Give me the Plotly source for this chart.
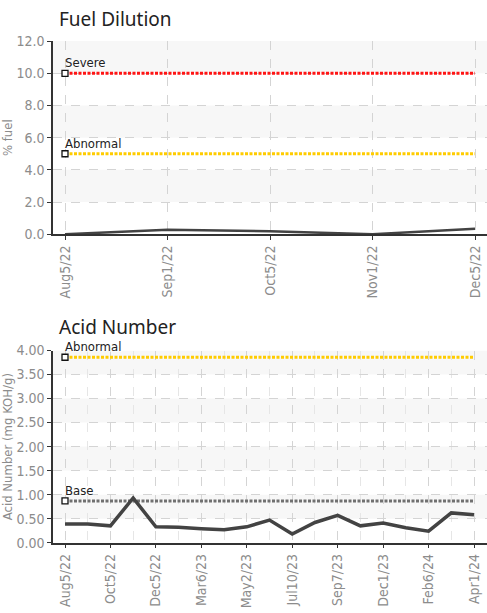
import plotly.graph_objects as go

# ---------------- data ----------------
fuel_dates = ["Aug5/22", "Sep1/22", "Oct5/22", "Nov1/22", "Dec5/22"]
fuel_values = [0.0, 0.28, 0.18, 0.0, 0.34]
fuel_severe = 10.0
fuel_abnormal = 5.0

acid_label_dates = ["Aug5/22", "Oct5/22", "Dec5/22", "Mar6/23", "May2/23",
                    "Jul10/23", "Sep7/23", "Dec1/23", "Feb6/24", "Apr1/24"]
acid_values = [0.39, 0.39, 0.35, 0.93, 0.33, 0.32, 0.29, 0.27, 0.33, 0.47,
               0.18, 0.42, 0.57, 0.35, 0.41, 0.31, 0.24, 0.62, 0.58]
acid_abnormal = 3.86
acid_base = 0.87

fuel_yticks = [0, 2, 4, 6, 8, 10, 12]
acid_yticks = [0, 0.5, 1.0, 1.5, 2.0, 2.5, 3.0, 3.5, 4.0]

# ---------------- style ----------------
W, H = 487, 613
ML = 53                       # left margin = y-axis line position
NARROW = "Liberation Sans Narrow, DejaVu Sans Condensed, sans-serif"
TITLE_FONT = "Noto Sans, DejaVu Sans, sans-serif"
TICK_COLOR = "#8c8c8c"
GRID = "#d4d4d4"
GRID_MINOR = "#e6e6e6"
BAND = "#f7f7f7"
LINE = "#434343"
DOTS = "3px,1.5px"


def px(v):
    return (v - ML) / (W - ML)


def py(v):
    return 1 - v / H


fuel_dom = [py(232.3), py(34)]
acid_dom = [py(549), py(351.7)]

fig = go.Figure()

fuel_x = list(range(len(fuel_values)))
acid_x = list(range(len(acid_values)))


def threshold(xs, level, color, name, xa, ya):
    fig.add_trace(go.Scatter(
        x=[xs[0], xs[-1]], y=[level, level], mode="lines",
        line=dict(color=color, width=3, dash=DOTS),
        xaxis=xa, yaxis=ya, hoverinfo="skip", showlegend=False))
    fig.add_trace(go.Scatter(
        x=[xs[0]], y=[level], mode="markers",
        marker=dict(symbol="square", size=6, color="white",
                    line=dict(color="#111", width=1.3)),
        xaxis=xa, yaxis=ya, hoverinfo="skip", showlegend=False))
    fig.add_annotation(
        x=xs[0], y=level, xref=xa, yref=ya, text=name, showarrow=False,
        xanchor="left", yanchor="bottom", yshift=1, xshift=-2,
        font=dict(family=NARROW, size=13, color="#222",
                  shadow="1px 1px 1px #fff"))


# fuel dilution
threshold(fuel_x, fuel_severe, "#ff1414", "Severe", "x", "y")
threshold(fuel_x, fuel_abnormal, "#ffcc00", "Abnormal", "x", "y")
fig.add_trace(go.Scatter(
    x=fuel_x, y=fuel_values, mode="lines",
    line=dict(color=LINE, width=2.5), xaxis="x", yaxis="y",
    showlegend=False, name="% fuel"))

# acid number
threshold(acid_x, acid_abnormal, "#ffcc00", "Abnormal", "x2", "y2")
threshold(acid_x, acid_base, "#707070", "Base", "x2", "y2")
fig.add_trace(go.Scatter(
    x=acid_x, y=acid_values, mode="lines",
    line=dict(color=LINE, width=3.5), xaxis="x2", yaxis="y2",
    showlegend=False, name="Acid Number"))

# alternating bands
shapes = []
for ticks, ya in ((fuel_yticks, "y"), (acid_yticks, "y2")):
    n = len(ticks) - 1
    for i in range(n):
        if (n - 1 - i) % 2 == 0:
            shapes.append(dict(type="rect", xref=ya.replace("y", "x") + " domain",
                               yref=ya, x0=0, x1=1, y0=ticks[i], y1=ticks[i + 1],
                               fillcolor=BAND, line=dict(width=0), layer="below"))

tickfont = dict(family=NARROW, size=14, color=TICK_COLOR)
ytitlefont = dict(family=NARROW, size=13, color=TICK_COLOR)

common_x = dict(
    showline=True, linecolor="#333", linewidth=1.5, ticks="outside",
    ticklen=4, tickcolor="#333", tickangle=-90, tickfont=tickfont,
    showgrid=True, gridcolor=GRID, griddash="dash", gridwidth=1,
    zeroline=False, domain=[0, 1],
)
common_y = dict(
    showline=True, linecolor="#333", linewidth=1.5, ticks="outside",
    ticklen=4, tickcolor="#333", tickfont=tickfont,
    showgrid=True, gridcolor=GRID, griddash="dash", gridwidth=1,
    zeroline=False,
)

step_f = (475 - 65) / (len(fuel_values) - 1)
step_a = (474 - 65) / (len(acid_values) - 1)

fig.update_layout(
    width=W, height=H, margin=dict(l=ML, r=0, t=0, b=0),
    paper_bgcolor="white", plot_bgcolor="white", showlegend=False,
    shapes=shapes,
    xaxis=dict(common_x, anchor="y",
               range=[-(65 - ML) / step_f, len(fuel_values) - 1 + (W - 475) / step_f],
               tickvals=fuel_x, ticktext=fuel_dates),
    yaxis=dict(common_y, anchor="x", domain=fuel_dom, range=[0, 12],
               tickvals=fuel_yticks, tickformat=".1f",
               title=dict(text="% fuel", font=ytitlefont, standoff=3)),
    xaxis2=dict(common_x, anchor="y2",
                range=[-(65 - ML) / step_a, len(acid_values) - 1 + (W - 474) / step_a],
                tickvals=acid_x[::2], ticktext=acid_label_dates,
                minor=dict(tickvals=acid_x, showgrid=True, gridcolor=GRID_MINOR,
                           griddash="dash", ticks="")),
    yaxis2=dict(common_y, anchor="x2", domain=acid_dom, range=[0, 4],
                tickvals=acid_yticks, tickformat=".2f",
                title=dict(text="Acid Number (mg KOH/g)", font=ytitlefont, standoff=3)),
)

# chart titles
fig.add_annotation(x=px(57), y=py(-4), xref="paper", yref="paper",
                   text="Fuel Dilution", showarrow=False, xanchor="left",
                   yanchor="top", font=dict(family=TITLE_FONT, size=19, color="#222"))
fig.add_annotation(x=px(57), y=py(312), xref="paper", yref="paper",
                   text="Acid Number", showarrow=False, xanchor="left",
                   yanchor="top", font=dict(family=TITLE_FONT, size=19, color="#222"))

fig.write_html("out.html", config={"displayModeBar": False},
               post_script="document.body.style.margin='0';"
                           "document.body.style.overflow='hidden';")
